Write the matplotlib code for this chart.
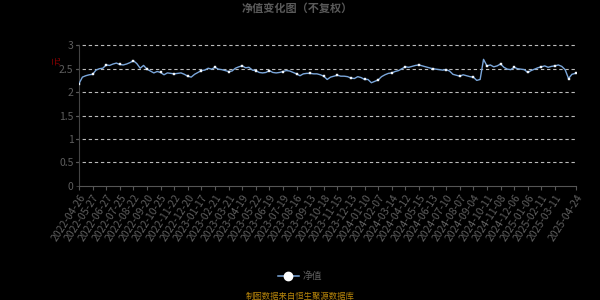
import numpy as np
import matplotlib
matplotlib.use("Agg")
import matplotlib.pyplot as plt
from matplotlib.lines import Line2D

plt.rcParams["font.family"] = ["Noto Sans CJK SC", "DejaVu Sans"]

# x axis labels (category axis, one label every 20 trading days + last day)
tick_labels = [
    "2022-04-26", "2022-05-27", "2022-06-27", "2022-07-25", "2022-08-22",
    "2022-09-20", "2022-10-25", "2022-11-22", "2022-12-20", "2023-01-17",
    "2023-02-21", "2023-03-21", "2023-04-19", "2023-05-22", "2023-06-19",
    "2023-07-19", "2023-08-16", "2023-09-13", "2023-10-18", "2023-11-15",
    "2023-12-13", "2024-01-10", "2024-02-07", "2024-03-14", "2024-04-12",
    "2024-05-15", "2024-06-13", "2024-07-10", "2024-08-07", "2024-09-04",
    "2024-10-11", "2024-11-08", "2024-12-06", "2025-01-06", "2025-02-11",
    "2025-03-11", "2025-04-24",
]
tick_days = [i * 20 for i in range(36)] + [731]

# net value, read every 5 trading days (last entry = 2025-04-24)
nav = [
    2.18, 2.32, 2.35, 2.37, 2.38, 2.47, 2.50, 2.51, 2.58, 2.57,
    2.60, 2.62, 2.59, 2.58, 2.60, 2.63, 2.67, 2.61, 2.51, 2.57,
    2.49, 2.45, 2.41, 2.44, 2.42, 2.37, 2.41, 2.40, 2.39, 2.40,
    2.41, 2.38, 2.34, 2.32, 2.38, 2.42, 2.46, 2.47, 2.51, 2.49,
    2.53, 2.49, 2.48, 2.46, 2.44, 2.45, 2.51, 2.54, 2.56, 2.52,
    2.53, 2.47, 2.46, 2.42, 2.41, 2.42, 2.46, 2.42, 2.41, 2.42,
    2.44, 2.46, 2.45, 2.42, 2.39, 2.35, 2.39, 2.40, 2.40, 2.39,
    2.39, 2.37, 2.34, 2.27, 2.32, 2.34, 2.36, 2.34, 2.34, 2.33,
    2.30, 2.29, 2.33, 2.31, 2.27, 2.27, 2.20, 2.23, 2.26, 2.33,
    2.37, 2.40, 2.41, 2.44, 2.46, 2.50, 2.54, 2.53, 2.55, 2.57,
    2.58, 2.56, 2.54, 2.52, 2.50, 2.49, 2.48, 2.47, 2.48, 2.45,
    2.38, 2.36, 2.34, 2.37, 2.35, 2.33, 2.32, 2.25, 2.27, 2.70,
    2.56, 2.58, 2.54, 2.56, 2.60, 2.53, 2.49, 2.48, 2.53, 2.50,
    2.49, 2.48, 2.42, 2.46, 2.49, 2.52, 2.54, 2.56, 2.53, 2.55,
    2.56, 2.58, 2.55, 2.48, 2.29, 2.38, 2.40,
    2.41,
]
days = [i * 5 for i in range(len(nav) - 1)] + [731]

LINE_COLOR = "#7aa6da"
GRAY = "#5e5e5e"

fig = plt.figure(figsize=(6, 3), dpi=100, facecolor="black")
ax = fig.add_axes([79 / 600, 1 - 185.7 / 300, (576 - 79) / 600, (185.7 - 45.3) / 300])
ax.set_facecolor("black")

ax.plot(days, nav, color=LINE_COLOR, lw=1.0, zorder=3)

# symbols shown every 20 days + last point
mk_x = [d for d in days if d % 20 == 0] + [731]
mk_y = [nav[days.index(d)] for d in mk_x]
ax.plot(mk_x, mk_y, ls="none", marker="s", ms=1.8, mfc="white",
        mec="#dde8f5", mew=0.3, zorder=4)

ax.set_xlim(0, 731)
ax.set_ylim(0, 3)
ax.set_yticks([0, 0.5, 1, 1.5, 2, 2.5, 3])
ax.set_yticklabels(["0", "0.5", "1", "1.5", "2", "2.5", "3"])
for yv in [0.5, 1, 1.5, 2, 2.5, 3]:
    ax.axhline(yv, color="#bbbbbb", lw=0.8, ls=(0, (3, 2.5)), zorder=1,
               xmin=-0.006, clip_on=False)

ax.set_xticks(tick_days)
ax.set_xticklabels(tick_labels, rotation=57, ha="right", va="top",
                   rotation_mode="anchor")

for side in ["top", "right"]:
    ax.spines[side].set_visible(False)
ax.spines["left"].set_color("#444444")
ax.spines["bottom"].set_color("#555555")
ax.tick_params(axis="x", colors="#555555", labelcolor=GRAY, labelsize=7.5,
               length=3, width=0.8, pad=2)
ax.tick_params(axis="y", colors="#444444", labelcolor=GRAY, labelsize=7.5,
               length=2, width=0.6, pad=2)

fig.text(0.495, 0.972, "净值变化图（不复权）", color="#5a5a5a", fontsize=8,
         fontweight="bold", ha="center", va="center")
fig.text(57 / 600, 1 - 61 / 300, "元", color="#8b0000", fontsize=6,
         rotation=90, ha="center", va="center")

# legend
leg_handle = Line2D([], [], color=LINE_COLOR, lw=1.1, marker="o", ms=6,
                    mfc="white", mec="white")
fig.legend([leg_handle], ["净值"], loc="center", bbox_to_anchor=(0.5, 1 - 276 / 300),
           frameon=False, fontsize=7, labelcolor=GRAY, handlelength=2.2,
           handletextpad=0.4)

fig.text(0.5, 1 - 296 / 300, "制图数据来自恒生聚源数据库", color="#b8860b",
         fontsize=6, ha="center", va="center")

fig.savefig("out.png", dpi=100, facecolor="black")
